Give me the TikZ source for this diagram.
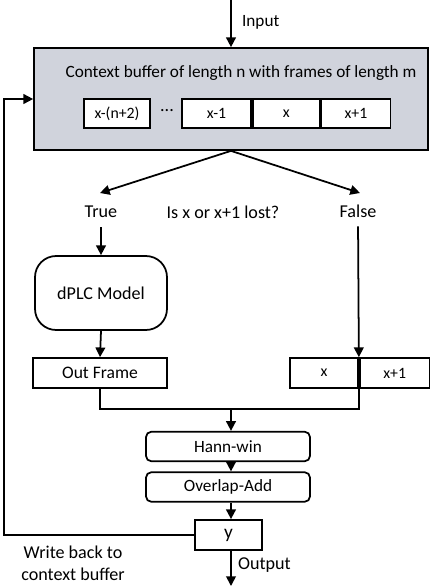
\documentclass[tikz,border=0pt]{standalone}
\usepackage{fontspec}
\setmainfont{Carlito}
\usepackage{xcolor}
\usepackage{tikz}
\usetikzlibrary{arrows.meta, positioning}
\definecolor{buffergray}{RGB}{208, 211, 220}
\tikzstyle{arrow} = [
    line width=1pt,
    -{Triangle[length=5.5pt, width=5.5pt]},
    color=black
]
\tikzstyle{line} = [line width=1pt, color=black]
\tikzstyle{framebox} = [
    draw, line width=1pt, fill=white,
    minimum height=0.58cm, inner sep=0pt,
    font=\fontsize{9}{10}\selectfont
]
\tikzstyle{stepbox} = [
    draw, line width=1pt, fill=white, rounded corners=3pt,
    minimum width=3.28cm, minimum height=0.59cm, inner sep=0pt,
    font=\fontsize{9.8}{11}\selectfont
]
\tikzstyle{txt} = [font=\fontsize{10.3}{12.5}\selectfont, inner sep=1pt]

\begin{document}
\begin{tikzpicture}[x=0.02cm, y=-0.02cm]
        \useasboundingbox (0, 0) rectangle (430, 586);

        % Context buffer
        \node[draw, line width=1pt, fill=buffergray, minimum width=7.88cm,
              minimum height=2.04cm, inner sep=0pt] (buffer) at (231, 99) {};
        \node[txt, font=\fontsize{9.8}{11}\selectfont] (title) at (241, 73) {Context buffer of length n with frames of length m};
        \node[framebox, minimum width=1.32cm] (fr0) at (117, 113.5) {x-(n+2)};
        \node[txt] (dots) at (167, 111) {...};
        \node[framebox, minimum width=1.38cm] (fr1) at (216.5, 113.5) {x-1};
        \node[framebox, minimum width=1.34cm, right=0pt of fr1] (fr2) {x};
        \node[framebox, minimum width=1.38cm, right=0pt of fr2] (fr3) {x+1};

        % Input
        \coordinate (in) at (231, 0);
        \node[txt, anchor=west, font=\fontsize{9.8}{11}\selectfont] (inlabel) at (240, 22) {Input};
        \draw[arrow] (in) -- (buffer.north);

        % Decision
        \node[txt] (true) at (101, 212) {True};
        \node[txt] (lost) at (223, 212) {Is x or x+1 lost?};
        \node[txt] (false) at (358, 211) {False};
        \coordinate (ttip) at (100, 193);
        \coordinate (ftip) at (360, 193);
        \draw[arrow] (buffer.south) -- (ttip);
        \draw[arrow] (buffer.south) -- (ftip);

        % Lost branch
        \node[draw, line width=1pt, rounded corners=12pt, minimum width=2.64cm,
              minimum height=1.48cm, txt] (dplc) at (101, 293) {dPLC Model};
        \node[framebox, minimum width=2.68cm, minimum height=0.6cm,
              font=\fontsize{10}{12}\selectfont] (outframe) at (100, 373) {Out Frame};
        \draw[arrow, shorten <=4pt] (true.south) -- (dplc.north);
        \draw[arrow] (dplc.south) -- (outframe.north);

        % Received branch
        \node[framebox, minimum width=1.36cm, minimum height=0.6cm] (bx) at (324, 373) {x};
        \node[framebox, minimum width=1.4cm, minimum height=0.6cm, right=0pt of bx] (bx1) {x+1};
        \draw[arrow, shorten <=4pt] (false.south) -- (bx.north east);

        % Merge
        \coordinate (join) at (231, 409);
        \draw[line] (outframe.south) |- (join);
        \draw[line] (bx.south east) |- (join);
        \node[stepbox] (hann) at (228, 446.5) {Hann-win};
        \node[stepbox] (ola) at (228, 487) {Overlap-Add};
        \draw[arrow] (join) -- (hann.north -| join);
        \draw[arrow] (hann.south -| join) -- (ola.north -| join);

        % Output
        \node[framebox, minimum width=1.34cm, minimum height=0.6cm,
              font=\fontsize{11}{12}\selectfont] (y) at (228.5, 535) {y};
        \draw[arrow] (ola.south -| join) -- (y.north -| join);
        \coordinate (out) at (231, 586);
        \draw[arrow] (y.south -| join) -- (out);
        \node[txt, anchor=west] (outlabel) at (236, 565) {Output};

        % Write back
        \coordinate (fb) at (4, 99);
        \draw[arrow] (y.west) -| (fb) -- (buffer.west);
        \node[txt, align=center] (wb) at (73, 563) {Write back to\\context buffer};
    \end{tikzpicture}
\end{document}
